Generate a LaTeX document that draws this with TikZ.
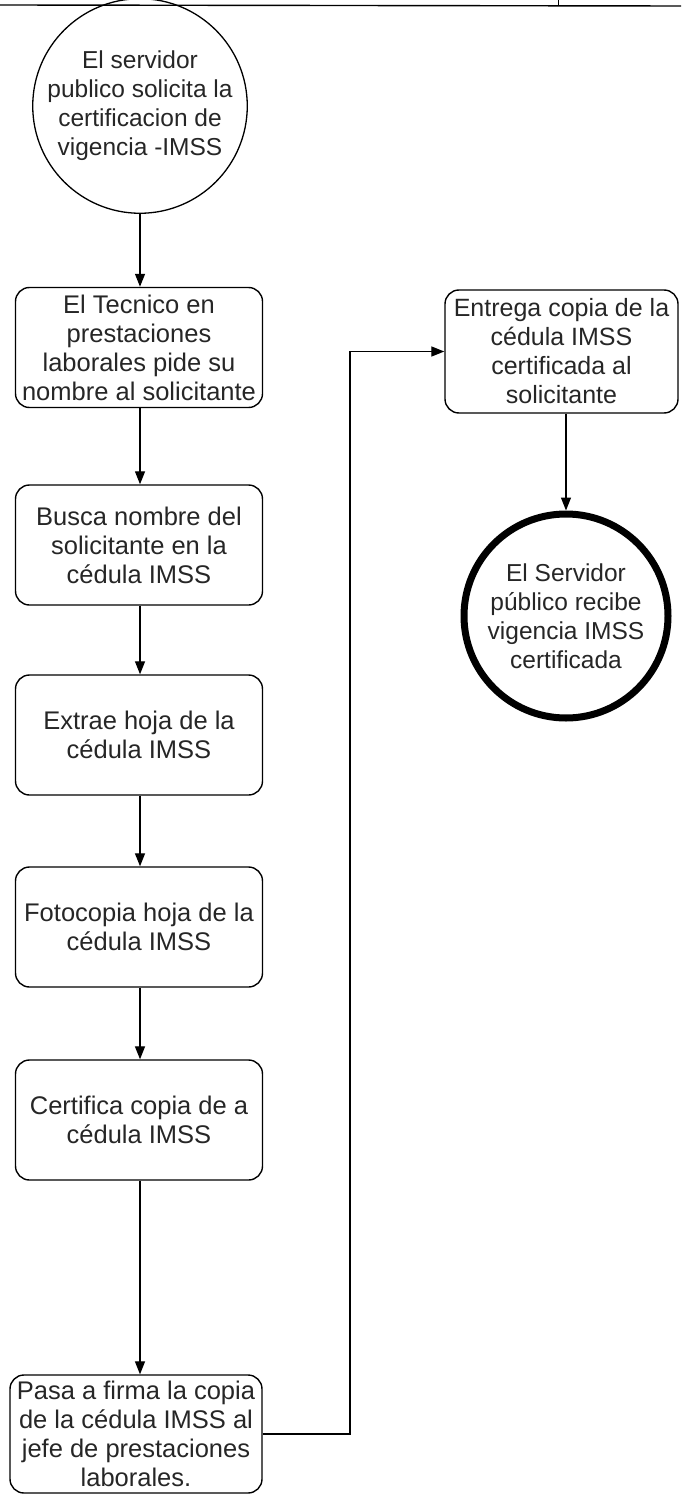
\documentclass[tikz,border=0pt]{standalone}
\usepackage{fontspec}
\setmainfont{Liberation Sans}
\usetikzlibrary{arrows.meta}
\begin{document}
\begin{tikzpicture}[x=1pt,y=1pt,
  txt/.style={font=\fontsize{25.5}{29}\selectfont, align=center, text=black!85},
  ctxt/.style={font=\fontsize{24.5}{29}\selectfont, align=center, text=black!85},
  procbox/.style={txt, draw, line width=1.4pt, rectangle, rounded corners=14pt,
    minimum width=247pt, minimum height=120pt, inner sep=0pt},
  startcirc/.style={ctxt, draw, line width=1.3pt, circle, minimum size=202pt, inner sep=0pt},
  endcirc/.style={ctxt, draw, line width=7pt, circle, minimum size=204pt, inner sep=0pt},
  arr/.style={line width=1.3pt, -{Triangle[length=13pt,width=10pt]}},
  conn/.style={line width=1.3pt}
]
\useasboundingbox (0,0) rectangle (681,-1495);
% header remnants
\coordinate (hl) at (0,-5);
\coordinate (hr) at (681,-6);
\coordinate (tk) at (558,0);
\draw[line width=1.4pt] (hl) -- (hr);
\draw[line width=1pt] (tk) -- (558,-5.5);

\node[startcirc] (s) at (140,-106) {El servidor\\publico solicita la\\certificacion de\\vigencia -IMSS};
\node[procbox] (b1) at (139,-347.5) {El Tecnico en\\prestaciones\\laborales pide su\\nombre al solicitante};
\node[procbox] (b2) at (139,-545) {Busca nombre del\\solicitante en la\\cédula IMSS};
\node[procbox] (b3) at (139,-735) {Extrae hoja de la\\cédula IMSS};
\node[procbox] (b4) at (139,-927) {Fotocopia hoja de la\\cédula IMSS};
\node[procbox] (b5) at (139,-1120) {Certifica copia de a\\cédula IMSS};
\node[procbox, minimum width=252pt, minimum height=118pt] (b6) at (136,-1434) {Pasa a firma la copia\\de la cédula IMSS al\\jefe de prestaciones\\laborales.};
\node[procbox, font=\fontsize{25}{29}\selectfont, minimum width=233pt, minimum height=123pt] (b7) at (561.5,-351.5) {Entrega copia de la\\cédula IMSS\\certificada al\\solicitante};
\node[endcirc] (e) at (566,-616) {El Servidor\\público recibe\\vigencia IMSS\\certificada};

\draw[arr] (s.south) -- (b1.north -| s.south);
\draw[arr] (b1.south -| s.south) -- (b2.north -| s.south);
\draw[arr] (b2.south -| s.south) -- (b3.north -| s.south);
\draw[arr] (b3.south -| s.south) -- (b4.north -| s.south);
\draw[arr] (b4.south -| s.south) -- (b5.north -| s.south);
\draw[arr] (b5.south -| s.south) -- (b6.north -| s.south);
\coordinate (turn) at (350,-1434);
\draw[arr] (b6.east) -- (turn) |- (b7.west);
\draw[arr] (b7.south -| e.north) -- (e.north);
\end{tikzpicture}
\end{document}
